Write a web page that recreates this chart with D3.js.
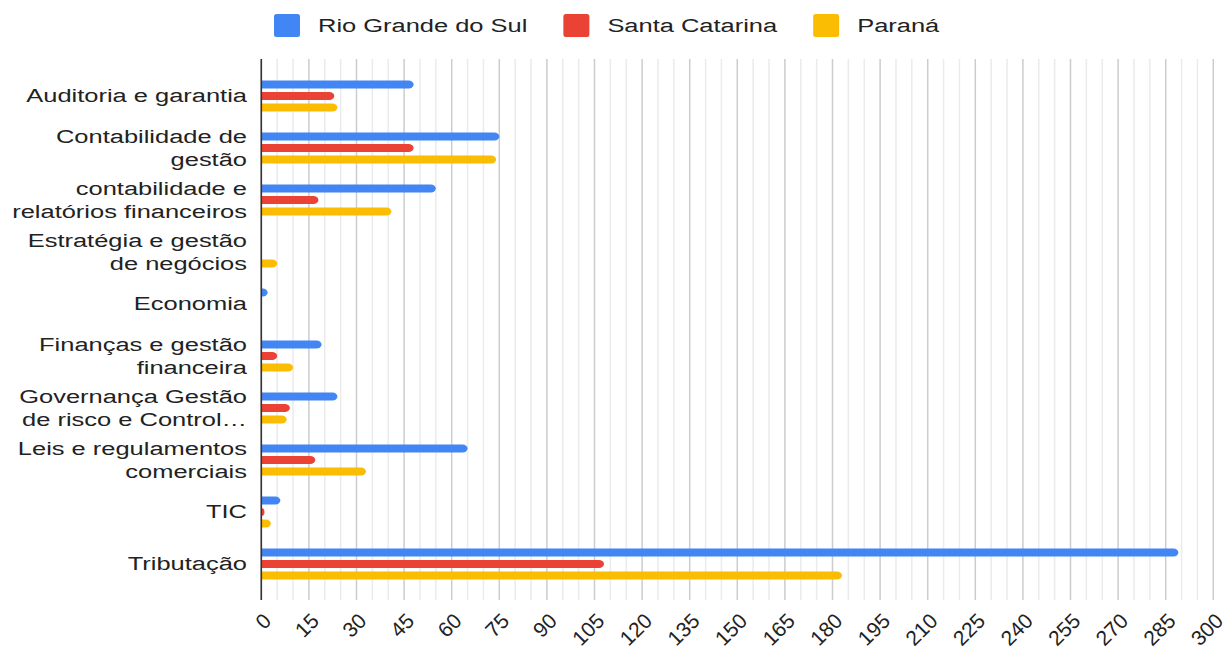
<!DOCTYPE html>
<html><head><meta charset="utf-8">
<script src="https://cdn.jsdelivr.net/npm/d3@7"></script>
<style>
body{margin:0;background:#fff}
text{font-family:Arial,"Liberation Sans",sans-serif;fill:#222}
</style></head>
<body><svg id="c" width="1224" height="651"></svg>
<script>
const categories = ["Auditoria e garantia","Contabilidade de\ngestão","contabilidade e\nrelatórios financeiros","Estratégia e gestão\nde negócios","Economia","Finanças e gestão\nfinanceira","Governança Gestão\nde risco e Control…","Leis e regulamentos\ncomerciais","TIC","Tributação"];
const seriesNames = ["Rio Grande do Sul","Santa Catarina","Paraná"];
const rioGrandeDoSul = [48,75,55,0,2,19,24,65,6,289];
const santaCatarina = [23,48,18,0,0,5,9,17,1,108];
const parana = [24,74,41,5,0,10,8,33,3,183];
const xTickValues = d3.range(0,301,15);
const gridMinorValues = d3.range(0,301,5);
const colors = ["#4285F4","#EA4335","#FBBC04"];

const series = [rioGrandeDoSul, santaCatarina, parana];
const SX = 1.34, FS = 19;
const svg = d3.select("#c");

const x = d3.scaleLinear().domain([0,300]).range([261.3,1213.3]);
const y = d3.scaleBand().domain(categories).range([70,590]);
const ys = d3.scaleBand().domain(seriesNames).range([-17.25,17.25]);
const plotTop = 59, plotBottom = 600;

// gridlines
svg.append("g").selectAll("line").data(gridMinorValues).join("line")
  .attr("x1",d=>x(d)).attr("x2",d=>x(d)).attr("y1",plotTop).attr("y2",plotBottom)
  .attr("stroke",d=>d%15===0?"#cccccc":"#ebebeb").attr("stroke-width",1.5);

// bars
const barH = 8;
function barPath(v, yc){
  const x0 = x(0), x1 = x(v);
  const rx = Math.min(5, x1-x0), ry = barH/2, y0 = yc-ry;
  return `M${x0},${y0}H${x1-rx}A${rx},${ry} 0 0 1 ${x1-rx},${y0+barH}H${x0}Z`;
}
const barData = [];
categories.forEach((c,i)=>seriesNames.forEach((s,j)=>{
  if(series[j][i]>0) barData.push({c,s,v:series[j][i],j});
}));
svg.append("g").selectAll("path").data(barData).join("path")
  .attr("d",d=>barPath(d.v, y(d.c)+y.bandwidth()/2+ys(d.s)+ys.bandwidth()/2))
  .attr("fill",d=>colors[d.j]);

// zero axis line
svg.append("line").attr("x1",x(0)).attr("x2",x(0)).attr("y1",plotTop).attr("y2",plotBottom)
  .attr("stroke","#333").attr("stroke-width",1.6);

// category labels
const lab = svg.append("g");
categories.forEach(c=>{
  const lines = c.split("\n");
  const yc = y(c)+y.bandwidth()/2;
  lines.forEach((l,k)=>{
    const off = (k-(lines.length-1)/2)*23;
    lab.append("text").attr("transform",`translate(247,${yc+off}) scale(${SX},1)`)
      .attr("text-anchor","end").attr("dominant-baseline","central")
      .style("font-size",FS+"px").text(l);
  });
});

// x tick labels
svg.append("g").selectAll("text").data(xTickValues).join("text")
  .attr("transform",d=>`translate(${x(d)+6},617) rotate(-45)`)
  .attr("text-anchor","end").attr("dominant-baseline","central")
  .style("font-size","21px").text(d=>d);

// legend
const lg = svg.append("g");
let lx = 274;
seriesNames.forEach((s,j)=>{
  lg.append("rect").attr("x",lx).attr("y",14).attr("width",26).attr("height",23).attr("rx",2.5).attr("fill",colors[j]);
  const t = lg.append("text").attr("transform",`translate(${lx+44},25.5) scale(${SX},1)`)
    .attr("dominant-baseline","central").style("font-size",FS+"px").text(s);
  const w = t.node().getComputedTextLength()*SX;
  lx = lx + 44 + w + 36;
});
</script></body></html>
